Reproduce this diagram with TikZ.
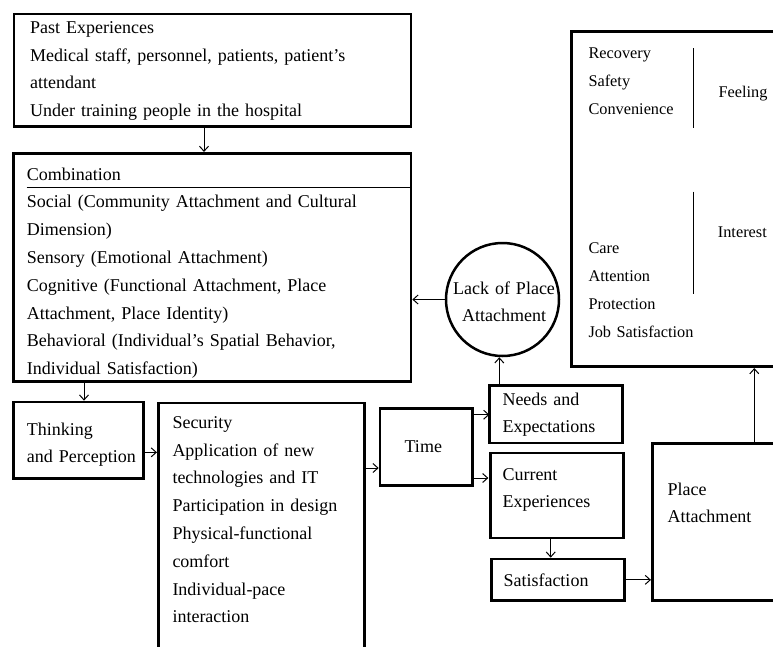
\documentclass[tikz,border=0pt]{standalone}
\usepackage{fontspec}
\setmainfont{Liberation Serif}
\usetikzlibrary{arrows.meta,calc}
\begin{document}
\begin{tikzpicture}[x=1pt,y=-1pt,
  box/.style={draw,line width=2.7pt,inner sep=0pt,rectangle},
  arr/.style={line width=1pt,-{Straight Barb[length=5pt,width=9pt,line width=1pt]}},
  thin/.style={line width=1pt},
  txt/.style={inner sep=0pt,anchor=base west,text width=390pt,align=left,
    font=\fontsize{18}{27.8}\selectfont},
  rtxt/.style={inner sep=0pt,anchor=base west,text width=150pt,align=left,
    font=\fontsize{16.3}{28.1}\selectfont}]
\clip (0,0) rectangle (773,646);
% boxes
\node[box,minimum width=397pt,minimum height=112.3pt] (past) at (212.5,70.15) {};
\node[box,minimum width=397.7pt,minimum height=228.4pt] (comb) at (212.15,267.5) {};
\node[box,minimum width=130pt,minimum height=76.7pt] (think) at (78.3,440.35) {};
\node[box,minimum width=206pt,minimum height=257pt] (sec) at (261.3,531.5) {};
\node[box,minimum width=92.7pt,minimum height=76.6pt] (time) at (426.35,447) {};
\node[box,minimum width=132.6pt,minimum height=57.3pt] (needs) at (556,414.35) {};
\node[box,minimum width=133pt,minimum height=85pt] (cur) at (557.2,495.5) {};
\node[box,minimum width=133pt,minimum height=41.7pt] (sat) at (558.2,579.85) {};
\node[box,minimum width=137.7pt,minimum height=157pt] (place) at (721.15,522.2) {};
\node[box,minimum width=218.3pt,minimum height=335.4pt] (res) at (680.85,199) {};
\node[draw,circle,line width=2.5pt,minimum size=113pt,inner sep=0pt] (lack) at (502.5,299.5) {};
% texts
\node[txt] (pastT) at (30,33.3) {Past Experiences\\Medical staff, personnel, patients, patient’s\\attendant\\Under training people in the hospital};
\node[txt] (combT) at (26.7,180) {Combination\\Social (Community Attachment and Cultural\\Dimension)\\Sensory (Emotional Attachment)\\Cognitive (Functional Attachment, Place\\Attachment, Place Identity)\\Behavioral (Individual’s Spatial Behavior,\\Individual Satisfaction)};
\node[txt] (thinkT) at (26.7,435) {Thinking\\and Perception};
\node[txt] (secT) at (172.3,428.3) {Security\\Application of new\\technologies and IT\\Participation in design\\Physical-functional\\comfort\\Individual-pace\\interaction};
\node[inner sep=0pt,anchor=base,font=\fontsize{18}{27.8}\selectfont] (timeT) at (423.3,452.7) {Time};
\node[txt] (needsT) at (502.3,405) {Needs and\\Expectations};
\node[inner sep=0pt,anchor=base,text width=110pt,align=center,font=\fontsize{18}{27.8}\selectfont] (lackT) at (504,294) {Lack of Place\\Attachment};
\node[txt] (curT) at (502.3,480) {Current\\Experiences};
\node[txt] (satT) at (503.3,586) {Satisfaction};
\node[txt] (placeT) at (667.3,495) {Place\\Attachment};
\node[rtxt] (resA) at (588.3,58.3) {Recovery\\Safety\\Convenience};
\node[rtxt] (resB) at (588.3,253.3) {Care\\Attention\\Protection\\Job Satisfaction};
\node[rtxt] (feel) at (718.3,97.3) {Feeling};
\node[rtxt] (inter) at (717.7,237.3) {Interest};
% inner lines
\coordinate (ul) at (26.7,187.3);
\draw[thin] (ul) -- (ul -| comb.east);
\coordinate (v1a) at (693.3,48.3);
\coordinate (v1b) at (693.3,128.3);
\coordinate (v2a) at (693.3,191.7);
\coordinate (v2b) at (693.3,294.3);
\draw[line width=1.2pt] (v1a) -- (v1b);
\draw[line width=1.2pt] (v2a) -- (v2b);
% connectors
\coordinate (a1) at ([xshift=-8.5pt]past.south);
\draw[arr] (a1) -- (a1 |- comb.north);
\coordinate (a2) at ([xshift=5.7pt]think.north);
\draw[arr] (a2 |- comb.south) -- (a2);
\coordinate (a3) at ([yshift=-12pt]think.east);
\draw[arr] (a3) -- (a3 -| sec.west);
\coordinate (a4) at ([yshift=-21pt]time.west);
\draw[arr] (a4 -| sec.east) -- (a4);
\coordinate (a5) at ([yshift=-31pt]time.east);
\draw[arr] (a5) -- (a5 -| needs.west);
\coordinate (a6) at ([yshift=32.3pt]time.east);
\draw[arr] (a6) -- (a6 -| cur.west);
\coordinate (a7) at ([xshift=-56.7pt]needs.north);
\draw[arr] (a7) -- (a7 |- lack.south);
\draw[arr] (lack.west) -- (lack.west -| comb.east);
\coordinate (a9) at ([xshift=-6.5pt]cur.south);
\draw[arr] (a9) -- (a9 |- sat.north);
\draw[arr] (sat.east) -- (sat.east -| place.west);
\coordinate (a11) at ([xshift=33.15pt]place.north);
\draw[arr] (a11) -- (a11 |- res.south);
\end{tikzpicture}
\end{document}
